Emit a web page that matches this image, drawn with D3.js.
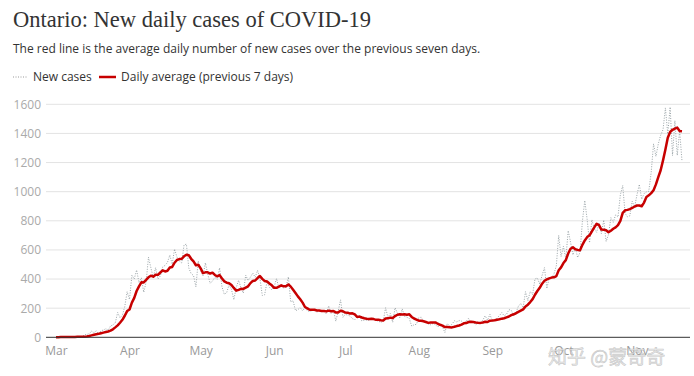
<!DOCTYPE html>
<html>
<head>
<meta charset="utf-8">
<script src="https://cdn.jsdelivr.net/npm/d3@7"></script>
<style>
  html, body { margin: 0; padding: 0; background: #fff; }
  svg { display: block; }
</style>
</head>
<body>
<svg id="chart" width="694" height="376"></svg>
<script>
// ---- data ----
const startDate = "2020-03-01";
const monthTicks = ["Mar", "Apr", "May", "Jun", "Jul", "Aug", "Sep", "Oct", "Nov"];
const yTicks = [0, 200, 400, 600, 800, 1000, 1200, 1400, 1600];

// New daily cases, Mar 1 .. Nov 20
const newMar = [2,3,1,2,2,3,5,0,4,4,2,5,17,20,24,42,32,44,23,45,50,59,49,78,85,100,170,135,151,211,313];
const newApr = [260,426,401,462,375,408,309,379,550,478,411,478,401,421,483,494,514,564,502,606,551,525,510,634,640,476,437,424,347,525];
const newMay = [459,421,511,434,370,387,412,399,477,346,294,308,361,329,258,341,391,340,304,427,390,413,441,412,460,404,287,292,383,344,326];
const newJun = [346,404,338,356,338,344,415,243,251,183,190,203,182,203,182,177,184,190,173,182,181,178,161,216,163,189,111,178,257,138];
const newJul = [157,153,146,128,121,138,154,112,118,118,116,130,129,116,111,102,111,203,135,164,103,203,165,134,195,144,138,129,76,86,89];
const newAug = [134,138,112,104,91,86,95,88,70,88,71,33,95,78,89,114,106,115,111,95,110,131,98,105,86,99,100,118,148,117,158];
const newSep = [112,114,132,149,169,148,158,190,185,149,170,213,232,204,313,251,315,293,401,407,365,425,478,335,409,409,435,491,700,554];
const newOct = [625,538,732,653,566,615,548,583,797,939,809,649,807,746,721,783,712,805,658,704,821,790,841,826,978,1042,851,827,834,934,896];
const newNov = [977,1050,948,987,998,1003,1132,1328,1242,1328,1388,1426,1575,1396,1581,1248,1487,1249,1417,1210];

// Daily average (previous 7 days), Mar 1 .. Nov 20
const avgMar = [1,1,2,2,2,2,2,2,2,3,3,3,4,6,9,13,17,21,24,28,32,36,40,46,55,68,82,100,120,148,180];
const avgApr = [191,238,271,318,350,378,377,394,412,423,416,430,429,445,460,452,457,479,483,512,531,537,539,556,567,563,539,521,495,498];
const avgMay = [473,441,446,446,438,444,428,419,427,404,384,375,371,359,339,320,326,333,332,341,350,372,387,390,407,421,401,387,383,369,357];
const avgJun = [340,340,348,357,350,350,363,348,326,304,281,261,238,208,199,189,189,189,184,184,181,181,178,183,179,181,171,171,182,179];
const avgJul = [170,169,163,165,157,140,142,136,131,127,125,127,125,120,120,117,116,129,130,135,133,146,155,158,157,158,155,158,140,129,122];
const avgAug = [114,114,110,105,99,101,102,102,93,86,80,70,70,69,68,72,77,81,87,96,98,105,107,105,102,100,99,102,107,105,114];
const avgSep = [115,117,121,124,128,131,137,143,152,158,165,174,183,192,212,224,242,262,292,318,340,368,388,398,405,410,412,420,460,480];
const avgOct = [510,530,575,608,618,605,600,598,635,665,688,700,728,755,780,770,740,738,735,722,732,745,755,770,800,855,872,875,880,888,898];
const avgNov = [905,905,900,925,964,975,990,1010,1050,1100,1147,1215,1290,1370,1410,1425,1433,1440,1417,1415];

const newCases = [].concat(newMar,newApr,newMay,newJun,newJul,newAug,newSep,newOct,newNov);
const dailyAvg = [].concat(avgMar,avgApr,avgMay,avgJun,avgJul,avgAug,avgSep,avgOct,avgNov);

// ---- chart ----
const svg = d3.select("#chart");
const t0 = new Date(startDate + "T00:00:00Z");
const dates = newCases.map((_, i) => d3.utcDay.offset(t0, i));

const x = d3.scaleUtc()
  .domain([t0, dates[dates.length - 1]])
  .range([56, 682]);
const y = d3.scaleLinear().domain([0, 1600]).range([337.3, 104.3]);

const sans = "'Open Sans', 'Noto Sans', sans-serif";

// title
svg.append("text")
  .attr("x", 13).attr("y", 27)
  .attr("font-family", "'Liberation Serif', 'DejaVu Serif', serif")
  .attr("font-size", 22.5)
  .attr("fill", "#333")
  .text("Ontario: New daily cases of COVID-19");

svg.append("text")
  .attr("x", 13).attr("y", 53)
  .attr("font-family", sans)
  .attr("font-size", 12)
  .attr("fill", "#333")
  .text("The red line is the average daily number of new cases over the previous seven days.");

// legend
const lg = svg.append("g").attr("font-family", sans).attr("font-size", 12).attr("fill", "#333");
lg.append("line").attr("x1", 13).attr("x2", 28).attr("y1", 77).attr("y2", 77)
  .attr("stroke", "#999").attr("stroke-width", 1).attr("stroke-dasharray", "1,1.5");
lg.append("text").attr("x", 33).attr("y", 81).text("New cases");
lg.append("line").attr("x1", 99).attr("x2", 116).attr("y1", 77).attr("y2", 77)
  .attr("stroke", "#c70000").attr("stroke-width", 2.5);
lg.append("text").attr("x", 121).attr("y", 81).text("Daily average (previous 7 days)");

// gridlines + y labels
const yAxis = d3.axisLeft(y).tickValues(yTicks).tickFormat(d3.format("d")).tickSize(0).tickPadding(0);
const gy = svg.append("g").attr("transform", "translate(41,0)").call(yAxis);
gy.select(".domain").remove();
gy.selectAll("text").attr("font-family", sans).attr("font-size", 12).attr("fill", "#aaa");

svg.append("g").selectAll("line").data(yTicks.filter(d => d > 0)).join("line")
  .attr("x1", 46).attr("x2", 690)
  .attr("y1", d => y(d)).attr("y2", d => y(d))
  .attr("stroke", "#e3e3e3").attr("stroke-width", 1);

// x axis
const xAxis = d3.axisBottom(x)
  .ticks(d3.utcMonth.every(1))
  .tickFormat((d, i) => monthTicks[i])
  .tickSize(0).tickPadding(0);
const gx = svg.append("g").attr("transform", "translate(0,346)").call(xAxis);
gx.select(".domain").remove();
gx.selectAll("text").attr("font-family", sans).attr("font-size", 12).attr("fill", "#999");

// lines
const lineNew = d3.line().x((d, i) => x(dates[i])).y(d => y(d));
svg.append("path").datum(newCases)
  .attr("d", lineNew)
  .attr("fill", "none")
  .attr("stroke", "#9aa4a8")
  .attr("stroke-width", 1)
  .attr("stroke-dasharray", "1,1.5");

svg.append("path").datum(dailyAvg)
  .attr("d", lineNew)
  .attr("fill", "none")
  .attr("stroke", "#c70000")
  .attr("stroke-width", 2.5)
  .attr("stroke-linejoin", "round");

// zero line
svg.append("line")
  .attr("x1", 46).attr("x2", 690)
  .attr("y1", y(0)).attr("y2", y(0))
  .attr("stroke", "#333").attr("stroke-width", 1);

// watermark (as in the reference, it sits over the Oct/Nov labels)
svg.append("text")
  .attr("x", 548).attr("y", 364)
  .attr("font-family", "'Noto Sans CJK SC', sans-serif")
  .attr("font-size", 19)
  .attr("fill", "rgba(230,230,230,0.8)")
  .attr("stroke", "rgba(170,170,170,0.6)")
  .attr("stroke-width", 0.6)
  .text("知乎 @蒙奇奇");
</script>
</body>
</html>
